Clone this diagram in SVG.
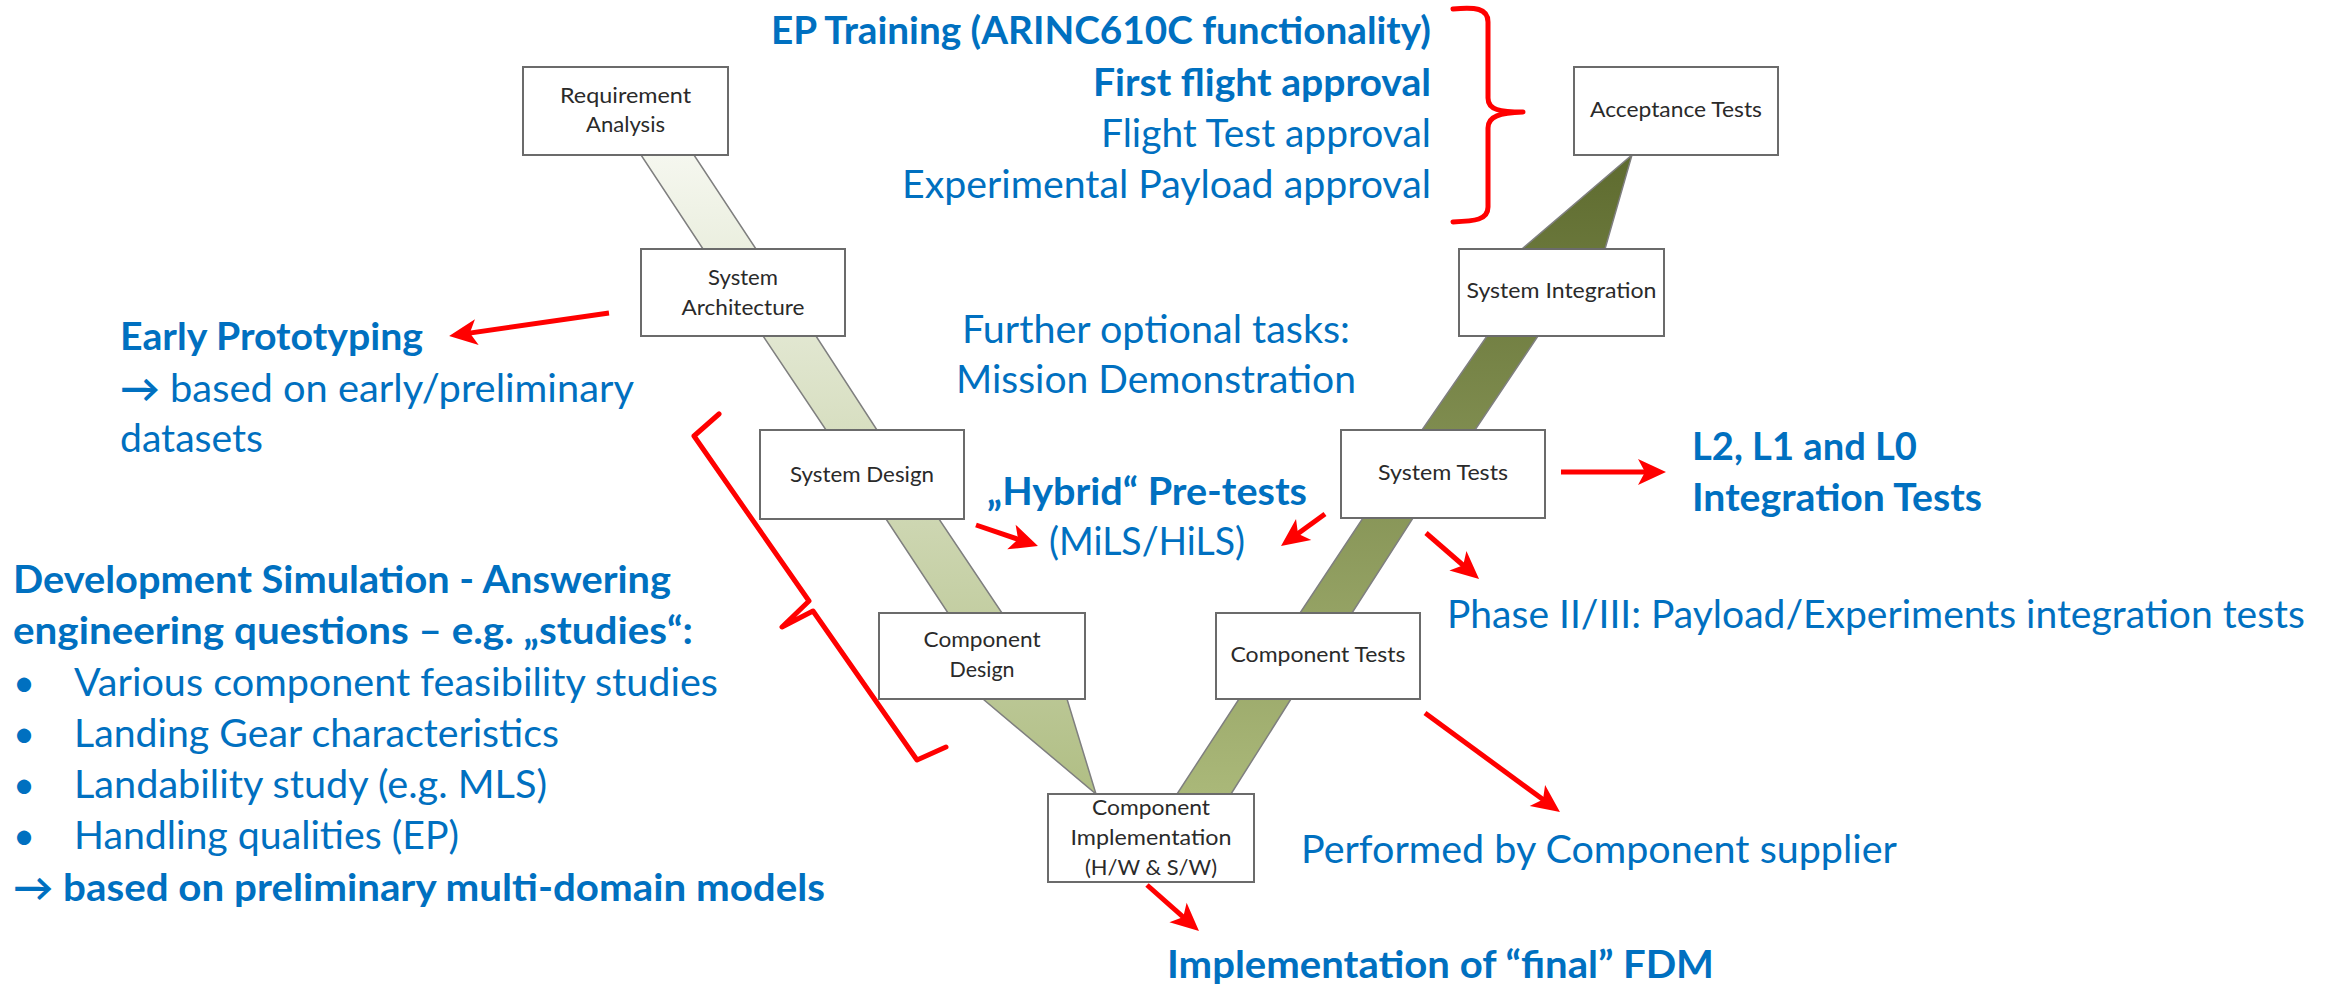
<svg xmlns="http://www.w3.org/2000/svg" width="2339" height="987" viewBox="0 0 2339 987">
<defs>
<linearGradient id="gl" gradientUnits="userSpaceOnUse" x1="0" y1="155" x2="0" y2="794"><stop offset="0" stop-color="#F5F7EF"/><stop offset="1" stop-color="#B0BE84"/></linearGradient>
<linearGradient id="gr" gradientUnits="userSpaceOnUse" x1="0" y1="794" x2="0" y2="155"><stop offset="0" stop-color="#AAB879"/><stop offset="1" stop-color="#5E6B2F"/></linearGradient>
<marker id="ah" markerUnits="userSpaceOnUse" markerWidth="32" markerHeight="28" refX="18" refY="13" orient="auto" overflow="visible"><path d="M0,0 L28,13 L0,26 L7,13 Z" fill="#FF0000"/></marker>
</defs>
<style>
.box{fill:#fff;stroke:#6b6b6b;stroke-width:2}
.bt{font-family:Lato,"Liberation Sans",sans-serif;font-size:21.5px;fill:#2a2a2a;text-anchor:middle}
.band{stroke:#7f7f7f;stroke-width:1.5}
.arr{stroke:#FF0000;stroke-width:5;fill:none;marker-end:url(#ah)}
.brace{stroke:#FF0000;stroke-width:5;fill:none;stroke-linejoin:round;stroke-linecap:round}
.t{font-family:Lato,"Liberation Sans",sans-serif;font-size:38px;fill:#0070C0}
.b{font-weight:700}
</style>
<rect width="2339" height="987" fill="#fff"/>
<g id="connectors">
<g id="bands">
<polygon class="band" fill="url(#gl)" points="641,155 694,155 756,249 703,249"/>
<polygon class="band" fill="url(#gl)" points="763,336 816,336 877,430 826,430"/>
<polygon class="band" fill="url(#gl)" points="886,519 939,519 1002,613 948,613"/>
<polygon class="band" fill="url(#gl)" points="983,699 1067,699 1096,794"/>
<polygon class="band" fill="url(#gr)" points="1177,794 1231,794 1291,699 1239,699"/>
<polygon class="band" fill="url(#gr)" points="1300,613 1352,613 1413,518 1363,518"/>
<polygon class="band" fill="url(#gr)" points="1422,430 1475,430 1538,336 1487,336"/>
<polygon class="band" fill="url(#gr)" points="1522,249 1605,249 1632,155"/>
</g>
<g id="red-arrows">
<line class="arr" x1="609" y1="313" x2="459" y2="334.6"/>
<line class="arr" x1="976" y1="525" x2="1028.5" y2="542.8"/>
<line class="arr" x1="1325" y1="514" x2="1289.1" y2="540.1"/>
<line class="arr" x1="1561" y1="472" x2="1656" y2="472"/>
<line class="arr" x1="1426" y1="533" x2="1471.5" y2="572.5"/>
<line class="arr" x1="1425" y1="713" x2="1551.9" y2="806.1"/>
<line class="arr" x1="1147" y1="885" x2="1191.5" y2="924.4"/>
</g>
<g id="braces">
<path class="brace" d="M1453,9 C1475,7 1488,8 1488,22 L1488,98 C1488,110 1500,112 1523,112 C1500,113 1488,116 1488,128 L1488,207 C1488,220 1475,221 1453,222"/>
<path class="brace" d="M719,414 L694,436 L809,601 L782,627 L813,611 L917,760 L946,747"/>
</g>
</g>
<g id="node-ra"><rect class="box" x="523" y="67" width="205" height="88"/><text class="bt" x="625.5" y="103" textLength="131" lengthAdjust="spacingAndGlyphs">Requirement</text><text class="bt" x="625.5" y="132" textLength="79" lengthAdjust="spacingAndGlyphs">Analysis</text></g>
<g id="node-sa"><rect class="box" x="641" y="249" width="204" height="87"/><text class="bt" x="743" y="285" textLength="70" lengthAdjust="spacingAndGlyphs">System</text><text class="bt" x="743" y="315" textLength="123" lengthAdjust="spacingAndGlyphs">Architecture</text></g>
<g id="node-sd"><rect class="box" x="760" y="430" width="204" height="89"/><text class="bt" x="862" y="482" textLength="144" lengthAdjust="spacingAndGlyphs">System Design</text></g>
<g id="node-cd"><rect class="box" x="879" y="613" width="206" height="86"/><text class="bt" x="982" y="647" textLength="117" lengthAdjust="spacingAndGlyphs">Component</text><text class="bt" x="982" y="677" textLength="65" lengthAdjust="spacingAndGlyphs">Design</text></g>
<g id="node-ci"><rect class="box" x="1048" y="794" width="206" height="88"/><text class="bt" x="1151" y="815" textLength="118" lengthAdjust="spacingAndGlyphs">Component</text><text class="bt" x="1151" y="845" textLength="161" lengthAdjust="spacingAndGlyphs">Implementation</text><text class="bt" x="1151" y="875" textLength="132" lengthAdjust="spacingAndGlyphs">(H/W &amp; S/W)</text></g>
<g id="node-ct"><rect class="box" x="1216" y="613" width="204" height="86"/><text class="bt" x="1318" y="662" textLength="175" lengthAdjust="spacingAndGlyphs">Component Tests</text></g>
<g id="node-st"><rect class="box" x="1341" y="430" width="204" height="88"/><text class="bt" x="1443" y="480" textLength="130" lengthAdjust="spacingAndGlyphs">System Tests</text></g>
<g id="node-si"><rect class="box" x="1459" y="249" width="205" height="87"/><text class="bt" x="1561.5" y="298" textLength="190" lengthAdjust="spacingAndGlyphs">System Integration</text></g>
<g id="node-at"><rect class="box" x="1574" y="67" width="204" height="88"/><text class="bt" x="1676" y="117" textLength="172" lengthAdjust="spacingAndGlyphs">Acceptance Tests</text></g>
<g id="labels">
<text class="t b" x="771" y="44" textLength="660" lengthAdjust="spacingAndGlyphs">EP Training (ARINC610C functionality)</text>
<text class="t b" x="1093" y="96" textLength="338" lengthAdjust="spacingAndGlyphs">First flight approval</text>
<text class="t" x="1101" y="147" textLength="330" lengthAdjust="spacingAndGlyphs">Flight Test approval</text>
<text class="t" x="902" y="198" textLength="529" lengthAdjust="spacingAndGlyphs">Experimental Payload approval</text>
<text class="t b" x="120" y="350" textLength="303" lengthAdjust="spacingAndGlyphs">Early Prototyping</text>
<text class="t" x="120" y="402" textLength="514" lengthAdjust="spacingAndGlyphs"><tspan class="b">→</tspan> based on early/preliminary</text>
<text class="t" x="120" y="452" textLength="143" lengthAdjust="spacingAndGlyphs">datasets</text>
<text class="t" x="962" y="343" textLength="388" lengthAdjust="spacingAndGlyphs">Further optional tasks:</text>
<text class="t" x="956" y="393" textLength="400" lengthAdjust="spacingAndGlyphs">Mission Demonstration</text>
<text class="t b" x="987" y="505" textLength="320" lengthAdjust="spacingAndGlyphs">„Hybrid“ Pre-tests</text>
<text class="t" x="1049" y="555" textLength="196" lengthAdjust="spacingAndGlyphs">(MiLS/HiLS)</text>
<text class="t b" x="1692" y="460" textLength="225" lengthAdjust="spacingAndGlyphs">L2, L1 and L0</text>
<text class="t b" x="1692" y="511" textLength="290" lengthAdjust="spacingAndGlyphs">Integration Tests</text>
<text class="t" x="1447" y="628" textLength="858" lengthAdjust="spacingAndGlyphs">Phase II/III: Payload/Experiments integration tests</text>
<text class="t" x="1301" y="863" textLength="596" lengthAdjust="spacingAndGlyphs">Performed by Component supplier</text>
<text class="t b" x="1167" y="978" textLength="547" lengthAdjust="spacingAndGlyphs">Implementation of “final” FDM</text>
<text class="t b" x="13" y="593" textLength="658" lengthAdjust="spacingAndGlyphs">Development Simulation - Answering</text>
<text class="t b" x="13" y="644" textLength="680" lengthAdjust="spacingAndGlyphs">engineering questions – e.g. „studies“:</text>
<text class="t" x="13" y="696">•</text>
<text class="t" x="74" y="696" textLength="644" lengthAdjust="spacingAndGlyphs">Various component feasibility studies</text>
<text class="t" x="13" y="747">•</text>
<text class="t" x="74" y="747" textLength="485" lengthAdjust="spacingAndGlyphs">Landing Gear characteristics</text>
<text class="t" x="13" y="798">•</text>
<text class="t" x="74" y="798" textLength="473" lengthAdjust="spacingAndGlyphs">Landability study (e.g. MLS)</text>
<text class="t" x="13" y="849">•</text>
<text class="t" x="74" y="849" textLength="385" lengthAdjust="spacingAndGlyphs">Handling qualities (EP)</text>
<text class="t b" x="13" y="901" textLength="812" lengthAdjust="spacingAndGlyphs">→ based on preliminary multi-domain models</text>
</g>
</svg>
